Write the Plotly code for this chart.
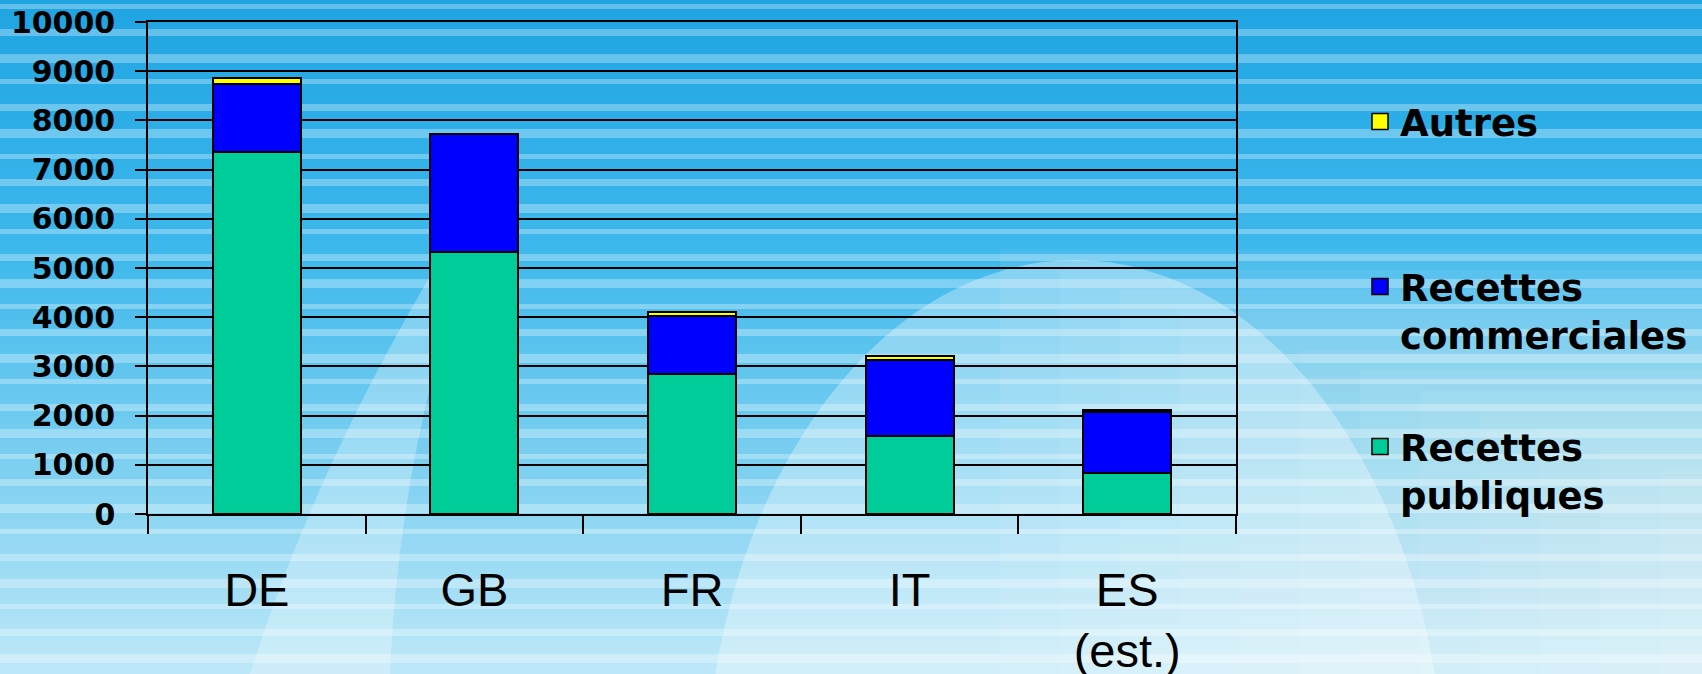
import plotly.graph_objects as go

# ---- data ----
countries = ["DE", "GB", "FR", "IT", "ES<br>(est.)"]
recettes_publiques = [7355, 5320, 2840, 1590, 840]
recettes_commerciales = [1390, 2410, 1175, 1540, 1225]
autres = [120, 0, 90, 85, 40]
series_names = ["Recettes<br>publiques", "Recettes<br>commerciales", "Autres"]
series_colors = ["#00CC99", "#0000FF", "#FFFF00"]
y_ticks = [0, 1000, 2000, 3000, 4000, 5000, 6000, 7000, 8000, 9000, 10000]

W, H = 1702, 674
L, R, T, B = 148, 1236, 22, 514  # plot area in px


def pxx(x):
    return (x - L) / (R - L)


def pxy(y):
    return (B - y) / (B - T)


def lerp(c1, c2, t):
    return tuple(int(round(a + (b - a) * t)) for a, b in zip(c1, c2))


shapes = []
# vertical gradient background
stops = [(0, (30, 164, 226)), (250, (62, 184, 236)), (450, (120, 206, 240)), (674, (190, 232, 248))]
step = 8
for y0 in range(0, H, step):
    yc = y0 + step / 2
    for i in range(len(stops) - 1):
        if stops[i][0] <= yc <= stops[i + 1][0]:
            t = (yc - stops[i][0]) / (stops[i + 1][0] - stops[i][0])
            c = lerp(stops[i][1], stops[i + 1][1], t)
            break
    shapes.append(dict(type="rect", xref="paper", yref="paper", layer="below",
                       x0=pxx(0), x1=pxx(W), y0=pxy(y0 + step + 0.5), y1=pxy(y0),
                       fillcolor="rgb(%d,%d,%d)" % c, line=dict(width=0)))
# gradual lightening toward the lower right
for k in range(12):
    x0 = 1000 + k * 60
    y0 = 250 + k * 20
    shapes.append(dict(type="rect", xref="paper", yref="paper", layer="below",
                       x0=pxx(x0), x1=pxx(W + 10), y0=pxy(H + 10), y1=pxy(y0),
                       fillcolor="rgba(255,255,255,0.06)", line=dict(width=0)))
# lighter horizontal streaks
for k, y0 in enumerate(range(4, H, 25)):
    h = 5 + (k % 3) * 2
    shapes.append(dict(type="rect", xref="paper", yref="paper", layer="below",
                       x0=pxx(0), x1=pxx(W), y0=pxy(y0 + h), y1=pxy(y0),
                       fillcolor="rgba(255,255,255,0.30)", line=dict(width=0)))
# large light arc on the right
shapes.append(dict(type="circle", xref="paper", yref="paper", layer="below",
                   x0=pxx(1075 - 370), x1=pxx(1075 + 370), y0=pxy(800 + 540), y1=pxy(800 - 540),
                   fillcolor="rgba(255,255,255,0.32)", line=dict(width=0)))
# left swoosh
p = lambda x, y: "%f,%f" % (pxx(x), pxy(y))
shapes.append(dict(type="path", xref="paper", yref="paper", layer="below",
                   path="M %s Q %s %s L %s Q %s %s Z" % (p(500, 165), p(330, 420), p(250, 674),
                                                        p(390, 674), p(400, 420), p(500, 165)),
                   fillcolor="rgba(255,255,255,0.28)", line=dict(width=0)))

fig = go.Figure()
for name, vals, col in zip(series_names, [recettes_publiques, recettes_commerciales, autres], series_colors):
    fig.add_trace(go.Bar(x=countries, y=vals, name=name, showlegend=False,
                         marker=dict(color=col, line=dict(color="black", width=2))))

legend_ids = ["legend3", "legend2", "legend"]
for name, col, lid in zip(series_names, series_colors, legend_ids):
    fig.add_trace(go.Scatter(x=[None], y=[None], mode="markers", name=name, legend=lid,
                             marker=dict(symbol="square", size=16, color=col,
                                         line=dict(color="black", width=1.5))))

leg_font = dict(family="DejaVu Sans", size=37, color="black", weight="bold")
leg_common = dict(xref="container", yref="container", xanchor="left", yanchor="top",
                  bgcolor="rgba(0,0,0,0)", borderwidth=0, font=leg_font, valign="top",
                  itemsizing="trace")
leg_x = 1360 / W
fig.update_layout(
    legend=dict(x=leg_x, y=(H - 91) / H, **leg_common),
    legend2=dict(x=leg_x, y=(H - 256) / H, **leg_common),
    legend3=dict(x=leg_x, y=(H - 416) / H, **leg_common),
)

fig.update_layout(
    width=W, height=H,
    margin=dict(l=L, r=W - R, t=T, b=H - B, autoexpand=False),
    paper_bgcolor="rgb(120,200,240)",
    plot_bgcolor="rgba(0,0,0,0)",
    barmode="stack",
    bargap=0.595,
    shapes=shapes,
    xaxis=dict(
        type="category", showline=True, linecolor="black", linewidth=1.5, mirror=True,
        ticks="outside", ticklen=18, tickwidth=1.5, tickcolor="black", tickson="boundaries",
        tickfont=dict(family="Liberation Sans", size=47, color="black"),
        ticklabelstandoff=34, showgrid=False, fixedrange=True,
    ),
    yaxis=dict(
        range=[0, 10000], tickvals=y_ticks, ticktext=[str(v) for v in y_ticks],
        showline=True, linecolor="black", linewidth=1.5, mirror=True,
        ticks="outside", ticklen=11, tickwidth=1.5, tickcolor="black",
        showgrid=True, gridcolor="black", gridwidth=1.5, zeroline=False,
        tickfont=dict(family="DejaVu Sans", size=30, color="black", weight="bold"),
        ticklabelstandoff=14, fixedrange=True,
    ),
)

fig.write_html("out.html", config={"displayModeBar": False},
               post_script="document.body.style.margin='0';document.body.style.overflow='hidden';")
